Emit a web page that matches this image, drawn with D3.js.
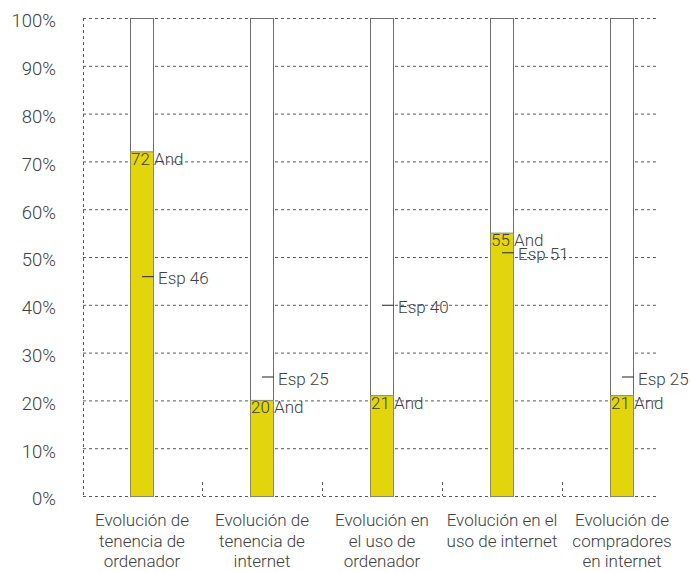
<!DOCTYPE html>
<html>
<head>
<meta charset="utf-8">
<script src="https://cdn.jsdelivr.net/npm/d3@7/dist/d3.min.js"></script>
<style>
  html, body { margin: 0; padding: 0; background: #fff; }
  svg { display: block; }
  text { font-family: Roboto, "Liberation Sans", sans-serif; font-weight: 300; fill: #404040; }
</style>
</head>
<body>
<svg id="chart" width="690" height="571"></svg>
<script>
// Categories (multi-line labels)
const categories = [
  "Evolución de tenencia de ordenador",
  "Evolución de tenencia de internet",
  "Evolución en el uso de ordenador",
  "Evolución en el uso de internet",
  "Evolución de compradores en internet"
];
const categoryLines = [
  ["Evolución de", "tenencia de", "ordenador"],
  ["Evolución de", "tenencia de", "internet"],
  ["Evolución en", "el uso de", "ordenador"],
  ["Evolución en el", "uso de internet"],
  ["Evolución de", "compradores", "en internet"]
];
// Andalucía values (yellow bars)
const andalucia = [72, 20, 21, 55, 21];
// España reference values (markers)
const espana = [46, 25, 40, 51, 25];
// Y axis ticks
const yTicks = [0, 10, 20, 30, 40, 50, 60, 70, 80, 90, 100];

const svg = d3.select("#chart");

const x = d3.scaleBand().domain(categories).range([82, 682]).padding(0);
const y = d3.scaleLinear().domain([0, 100]).range([496, 18]);

const gridLeft = 83, gridRight = 657;
const barW = 24;
const yellow = "#e3d50c";
const fontSize = "17px";

// Gridlines
svg.append("g")
  .selectAll("line")
  .data(yTicks)
  .join("line")
  .attr("x1", gridLeft).attr("x2", gridRight)
  .attr("y1", d => y(d) + 0.5).attr("y2", d => y(d) + 0.5)
  .attr("stroke", "#5a5a5a").attr("stroke-width", 1)
  .attr("stroke-dasharray", "3,3");

// Left dotted frame line
svg.append("line")
  .attr("x1", gridLeft + 0.5).attr("x2", gridLeft + 0.5)
  .attr("y1", y(100)).attr("y2", y(0))
  .attr("stroke", "#5a5a5a").attr("stroke-dasharray", "3,3");

// Category separators at the base
svg.append("g")
  .selectAll("line")
  .data(categories.slice(1))
  .join("line")
  .attr("x1", d => x(d) + 0.5).attr("x2", d => x(d) + 0.5)
  .attr("y1", y(0) - 14).attr("y2", y(0))
  .attr("stroke", "#5a5a5a").attr("stroke-dasharray", "3,3");

// Y axis labels
const yAxis = d3.axisLeft(y).tickValues(yTicks).tickFormat(d => d + "%").tickSize(0).tickPadding(0);
const yg = svg.append("g").attr("transform", "translate(56,0)").call(yAxis);
yg.select(".domain").remove();
yg.selectAll("text")
  .attr("dy", "0.48em")
  .style("font-family", "Roboto, 'Liberation Sans', sans-serif")
  .style("font-weight", 300)
  .style("font-size", "18.5px")
  .attr("fill", "#404040");

const cx = i => x(categories[i]) + x.bandwidth() / 2;

// Full-height outline bars
svg.append("g")
  .selectAll("rect")
  .data(categories)
  .join("rect")
  .attr("x", (d, i) => cx(i) - barW / 2 + 0.5)
  .attr("y", y(100) + 0.5)
  .attr("width", barW - 1)
  .attr("height", y(0) - y(100))
  .attr("fill", "#fff")
  .attr("stroke", "#6e6e6e").attr("stroke-width", 1);

// Value bars
svg.append("g")
  .selectAll("rect")
  .data(andalucia)
  .join("rect")
  .attr("x", (d, i) => cx(i) - barW / 2 + 0.5)
  .attr("y", d => y(d))
  .attr("width", barW - 1)
  .attr("height", d => y(0) - y(d) + 0.5)
  .attr("fill", yellow)
  .attr("stroke", "#8a8a6a").attr("stroke-width", 1);

// Andalucía labels
svg.append("g")
  .selectAll("text")
  .data(andalucia)
  .join("text")
  .attr("x", (d, i) => cx(i) - barW / 2 + 1)
  .attr("y", d => y(d) + 13)
  .style("font-size", fontSize)
  .text(d => d + " And");

// España markers
svg.append("g")
  .selectAll("line")
  .data(espana)
  .join("line")
  .attr("x1", (d, i) => cx(i))
  .attr("x2", (d, i) => cx(i) + barW / 2)
  .attr("y1", d => y(d) + 0.5).attr("y2", d => y(d) + 0.5)
  .attr("stroke", "#444").attr("stroke-width", 1.2);

svg.append("g")
  .selectAll("text")
  .data(espana)
  .join("text")
  .attr("x", (d, i) => cx(i) + barW / 2 + 4)
  .attr("y", d => y(d) + 8)
  .style("font-size", fontSize)
  .text(d => "Esp " + d);

// Category labels
const cl = svg.append("g")
  .selectAll("text")
  .data(categoryLines)
  .join("text")
  .attr("text-anchor", "middle")
  .style("font-size", fontSize);
cl.each(function(lines, i) {
  d3.select(this).selectAll("tspan")
    .data(lines)
    .join("tspan")
    .attr("x", cx(i))
    .attr("y", (l, j) => 526 + j * 20.5)
    .text(l => l);
});
</script>
</body>
</html>
